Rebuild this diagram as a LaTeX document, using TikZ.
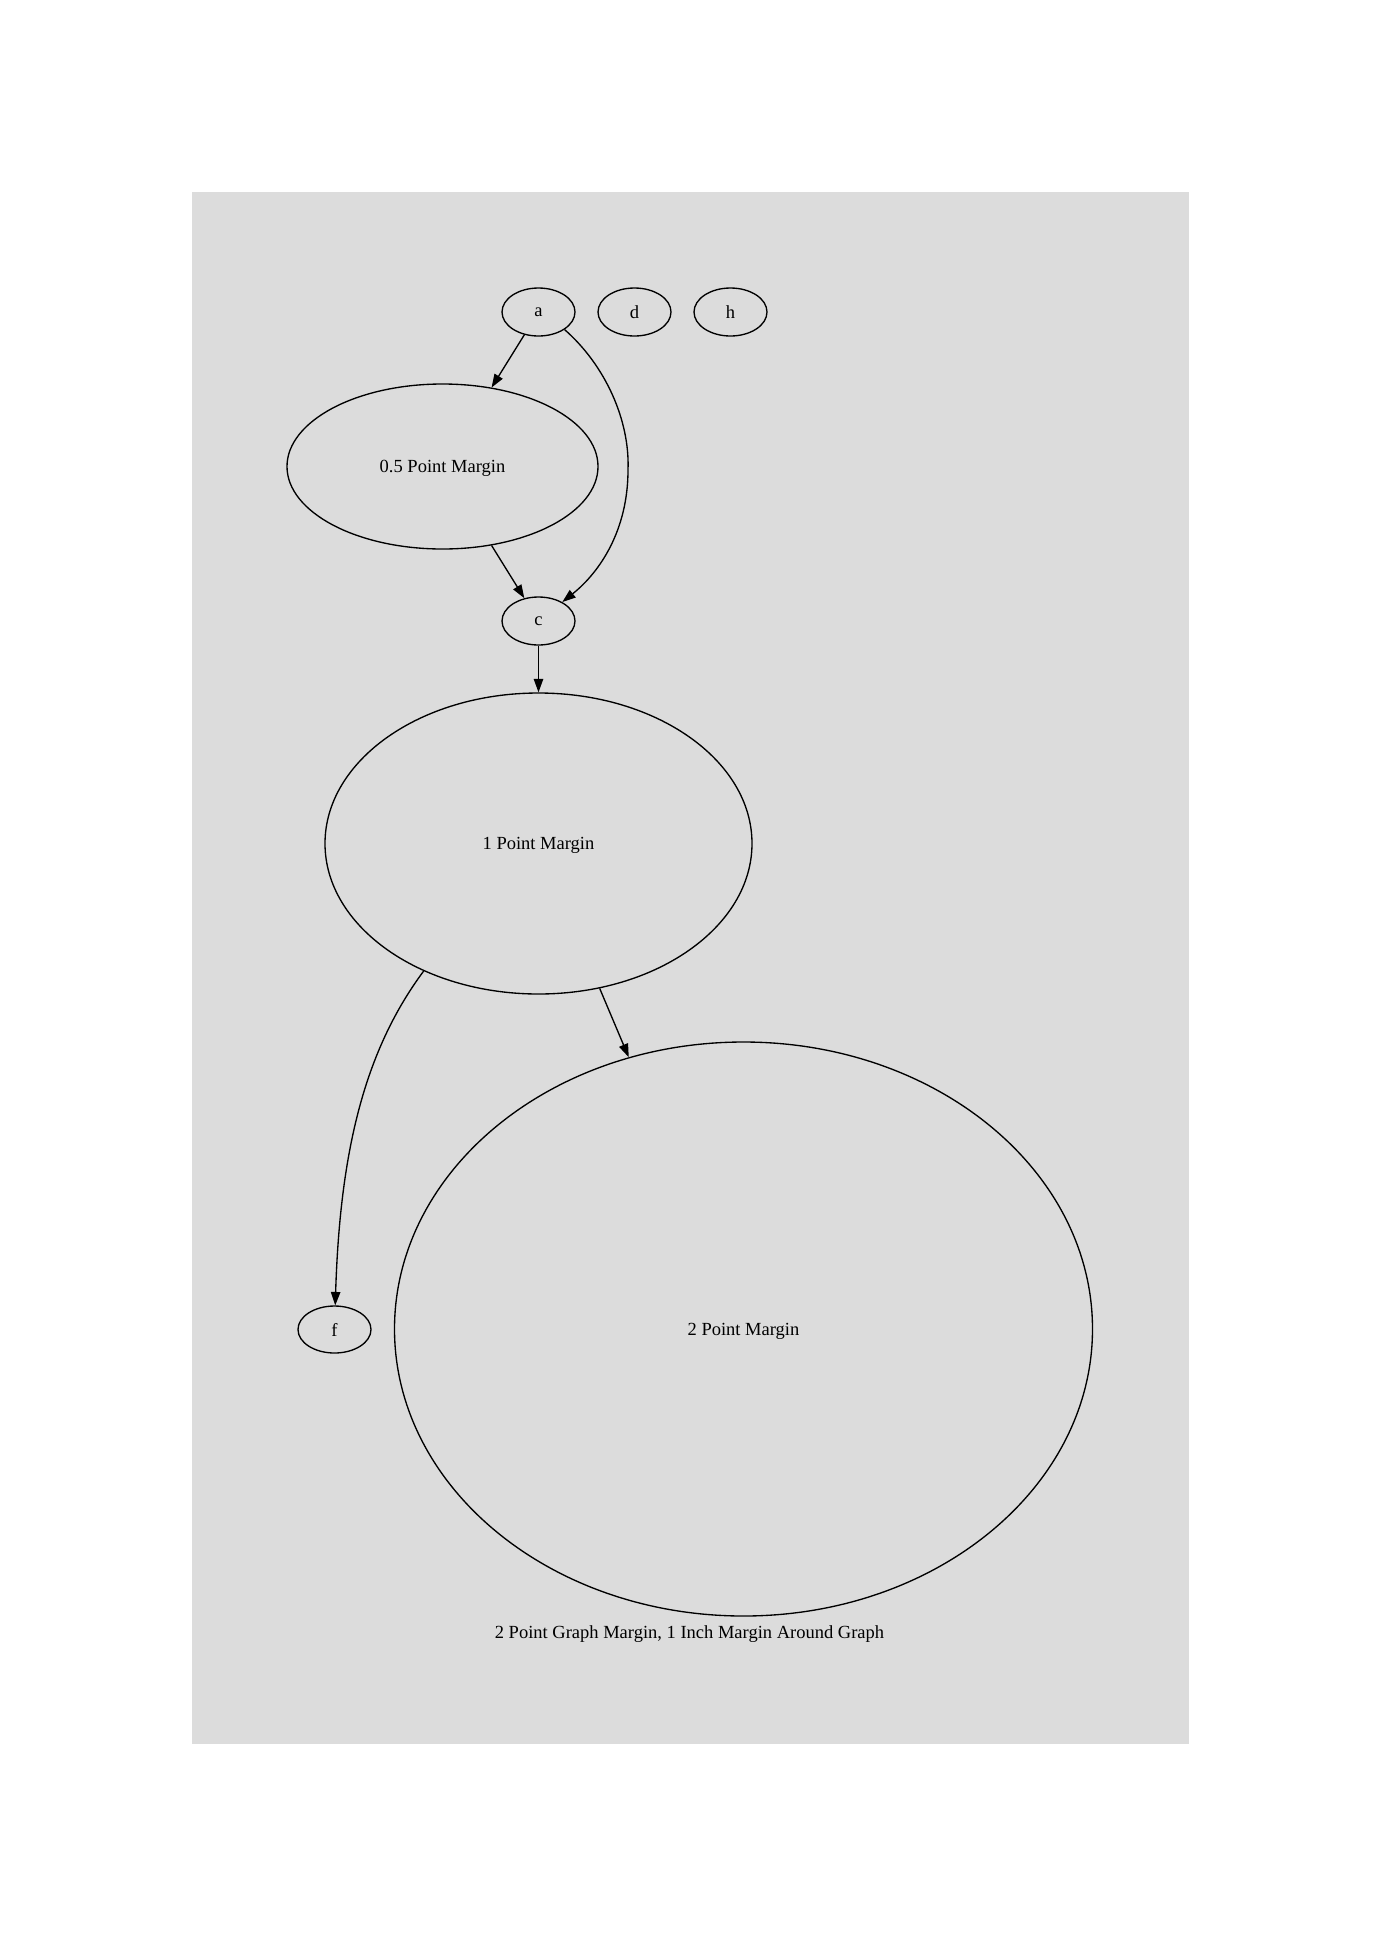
\documentclass[tikz,border=0pt]{standalone}
\usepackage{fontspec}
\setmainfont{Liberation Serif}
\usepackage{xcolor}
\usepackage{tikz}
\usetikzlibrary{shapes.geometric,arrows.meta}
\definecolor{bggray}{RGB}{220,220,220}

\begin{document}
\begin{tikzpicture}[x=1pt,y=-1pt,line width=1.34pt,>={Triangle[length=13.4pt,width=9.4pt]},
  every node/.style={ellipse,draw,inner sep=0pt,text depth=0pt,font=\fontsize{18.5}{22}\selectfont}]
	\useasboundingbox (0,0) rectangle (1381,1936);
	\fill[bggray] (192,192) rectangle (1189,1744);

	\node[minimum width=73pt,minimum height=48pt] (a) at (538.5,312) {a};
	\node[minimum width=73pt,minimum height=48pt] (d) at (634.5,312) {d};
	\node[minimum width=73pt,minimum height=48pt] (h) at (730.5,312) {h};
	\node[minimum width=311pt,minimum height=165pt] (m05) at (442.5,466.5) {0.5 Point Margin};
	\node[minimum width=73pt,minimum height=48pt] (c) at (538.5,621) {c};
	\node[minimum width=427pt,minimum height=301pt] (m1) at (538.5,843.5) {1 Point Margin};
	\node[minimum width=73pt,minimum height=47pt] (f) at (334.5,1329.5) {f};
	\node[minimum width=698pt,minimum height=574pt] (m2) at (743.5,1329) {2 Point Margin};
	\node[draw=none] (caption) at (689.5,1632) {2 Point Graph Margin, 1 Inch Margin Around Graph};

	\draw[->] (a) -- (m05);
	\draw[->] (a.-34) .. controls (605,365) and (630,420) .. (628,470) .. controls (628,530) and (600,572) .. (c);
	\draw[->] (m05) -- (c);
	\draw[->] (c) -- (m1);
	\draw[->] (m1.-132) .. controls (365,1050) and (340,1150) .. (f);
	\draw[->] (m1) -- (m2);

\end{tikzpicture}
\end{document}
